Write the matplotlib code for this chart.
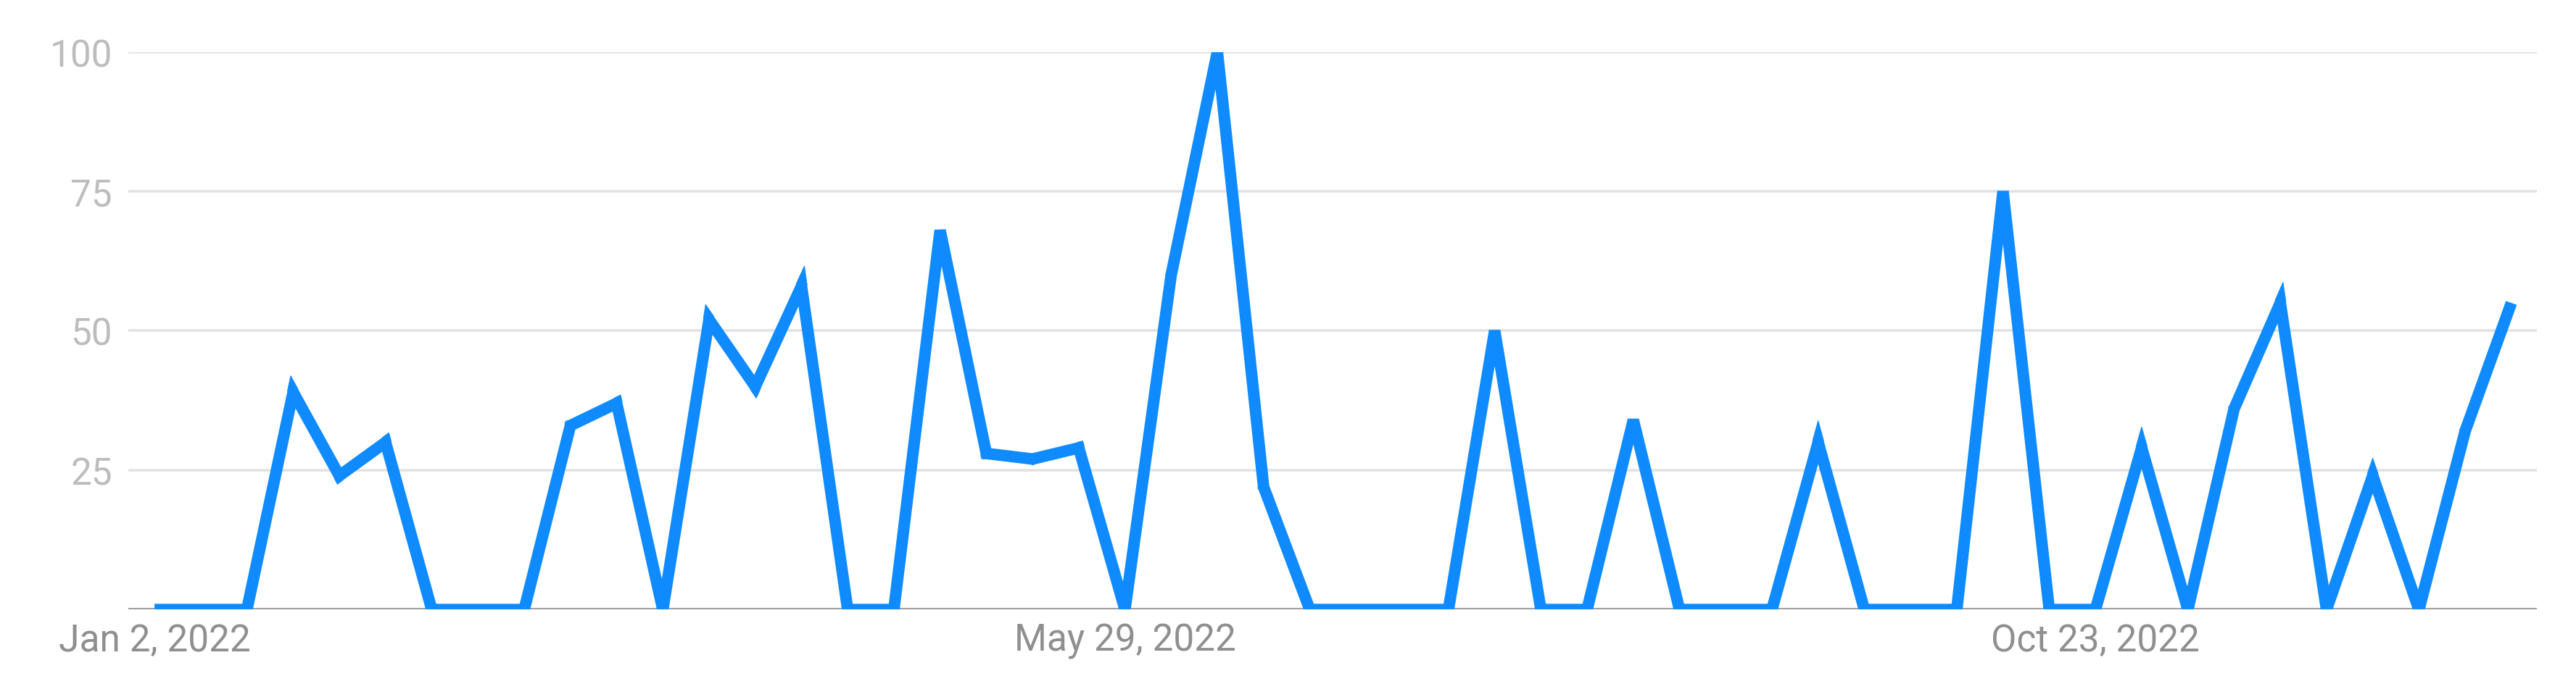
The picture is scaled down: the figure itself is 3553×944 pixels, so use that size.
"""
Weekly interest over time, 2022 - single blue line in the Google Trends style.
"""
import matplotlib
matplotlib.use("Agg")
import matplotlib.pyplot as plt
import matplotlib.dates as mdates
import numpy as np
import pandas as pd
from matplotlib.patches import Polygon

# weekly values (0-100 scale)
weeks = pd.date_range("2022-01-02", periods=52, freq="7D")
interest = [
    0, 0, 0, 39, 24, 30, 0, 0, 0, 33,
    37, 0, 52, 40, 58, 0, 0, 68, 28, 27,
    29, 0, 60, 100, 22, 0, 0, 0, 0, 50,
    0, 0, 34, 0, 0, 0, 30, 0, 0, 0,
    75, 0, 0, 29, 0, 36, 55, 0, 24, 0,
    32, 55,
]
y_ticks = [25, 50, 75, 100]
x_tick_dates = ["2022-01-02", "2022-05-29", "2022-10-23"]
x_tick_labels = ["Jan 2, 2022", "May 29, 2022", "Oct 23, 2022"]

LINE_BLUE = "#0f8bff"
GRID = "#e2e2e2"
AXIS = "#9e9e9e"
LINE_W = 11.5  # points
DPI = 100


def add_miter_tips(ax, x, y, width_px, color, limit=4.0):
    """Bevel joins everywhere, plus miter tips where the SVG-style miter limit allows."""
    pts = ax.transData.transform(np.column_stack([x, y]))
    inv = ax.transData.inverted()
    half = width_px / 2
    for p0, p1, p2 in zip(pts[:-2], pts[1:-1], pts[2:]):
        d1 = (p1 - p0) / np.hypot(*(p1 - p0))
        d2 = (p2 - p1) / np.hypot(*(p2 - p1))
        cross = d1[0] * d2[1] - d1[1] * d2[0]
        if abs(cross) < 1e-9:
            continue
        sgn = -1.0 if cross > 0 else 1.0
        n1 = sgn * np.array([-d1[1], d1[0]])
        n2 = sgn * np.array([-d2[1], d2[0]])
        bis = n1 + n2
        bis /= np.hypot(*bis)
        cos_phi = float(np.dot(bis, n1))
        if cos_phi <= 0 or 1 / cos_phi > limit:
            continue
        a = p1 + n1 * half
        b = p1 + n2 * half
        tip = p1 + bis * half / cos_phi
        verts = inv.transform(np.array([p1, a, tip, b]))
        ax.add_patch(Polygon(verts, closed=True, facecolor=color,
                             edgecolor=color, linewidth=0.6, zorder=5))


plt.rcParams["font.family"] = ["Roboto", "DejaVu Sans"]

fig = plt.figure(figsize=(35.53, 9.45), dpi=DPI)
ax = fig.add_axes([0.04982, 0.10868, 0.93498, 0.81439])

xs = mdates.date2num(weeks)
ax.set_ylim(0, 100)
ax.set_xlim(xs[0] - 3.96, xs[-1] + 3.86)

ax.plot(xs, interest, color=LINE_BLUE, linewidth=LINE_W,
        solid_joinstyle="bevel", solid_capstyle="butt", zorder=5)
add_miter_tips(ax, xs, interest, LINE_W * DPI / 72, LINE_BLUE)

ax.set_yticks(y_ticks)
ax.set_yticklabels([str(t) for t in y_ticks])
ax.set_xticks([mdates.date2num(pd.Timestamp(d)) for d in x_tick_dates])
ax.set_xticklabels(x_tick_labels)

for t in y_ticks:
    ax.axhline(t, color=GRID, linewidth=2.6, zorder=1)
ax.axhline(0, color=AXIS, linewidth=3, zorder=2)

for s in ax.spines.values():
    s.set_visible(False)

ax.tick_params(axis="y", length=0, pad=16, labelsize=37, labelcolor="#bdbdbd")
ax.tick_params(axis="x", length=0, pad=13, labelsize=37, labelcolor="#8f8f8f")

fig.savefig("out.png", dpi=DPI, facecolor="white")
plt.close()
